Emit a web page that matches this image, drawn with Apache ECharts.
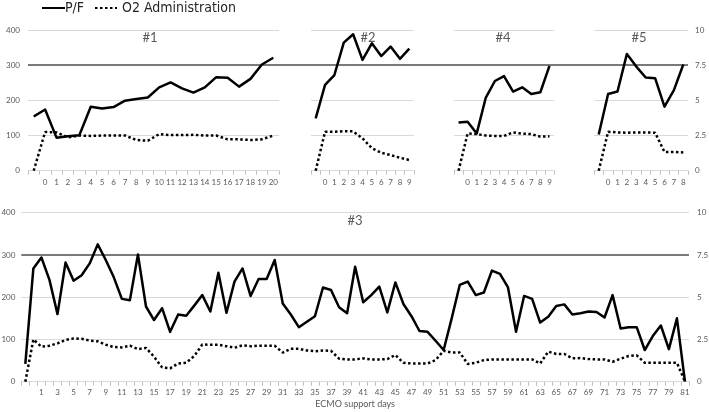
<!DOCTYPE html>
<html>
<head>
<meta charset="utf-8">
<script src="https://cdn.jsdelivr.net/npm/echarts@6/dist/echarts.min.js"></script>
<style>html,body{margin:0;padding:0;background:#fff}#c{width:709px;height:412px}</style>
</head>
<body>
<div id="c"></div>
<script>
// ---------- DATA ----------
const cat1 = ['', '0','1','2','3','4','5','6','7','8','9','10','11','12','13','14','15','16','17','18','19','20'];
const pf1  = [154,174,94,98,101,182,177,181,199,204,208,237,251,234,222,237,266,264,239,261,302,321];
const o2_1 = [0,2.75,2.72,2.37,2.5,2.47,2.5,2.5,2.5,2.18,2.13,2.6,2.53,2.53,2.55,2.5,2.5,2.23,2.23,2.18,2.23,2.5];

const cat2 = ['', '0','1','2','3','4','5','6','7','8','9'];
const pf2  = [149,244,272,364,388,315,362,326,353,318,347];
const o2_2 = [0,2.77,2.77,2.8,2.8,2.3,1.6,1.28,1.11,0.92,0.76];

const cat4 = ['', '0','1','2','3','4','5','6','7','8','9'];
const pf4  = [137,139,106,208,255,269,225,237,218,223,298];
const o2_4 = [0,2.65,2.6,2.5,2.47,2.47,2.72,2.63,2.6,2.42,2.44];

const cat5 = ['', '0','1','2','3','4','5','6','7','8'];
const pf5  = [103,218,225,332,296,265,263,182,229,302];
const o2_5 = [0,2.77,2.72,2.7,2.72,2.72,2.7,1.33,1.33,1.3];

const cat3 = ['', '0','1','2','3','4','5','6','7','8','9','10','11','12','13','14','15','16','17','18','19',
  '20','21','22','23','24','25','26','27','28','29','30','31','32','33','34','35','36','37','38','39',
  '40','41','42','43','44','45','46','47','48','49','50','51','52','53','54','55','56','57','58','59',
  '60','61','62','63','64','65','66','67','68','69','70','71','72','73','74','75','76','77','78','79','80','81'];
const pf3 = [42,268,294,241,160,282,239,252,280,325,288,247,196,193,301,178,146,174,118,159,156,
  180,205,166,258,163,237,268,203,243,243,288,185,159,129,142,155,223,217,176,162,
  272,188,205,225,164,235,184,155,120,118,97,75,150,229,237,205,211,263,255,223,118,
  203,196,140,154,179,183,159,162,166,165,152,205,126,129,129,75,108,133,77,150,0];
const o2_3 = [0,2.5,2.07,2.13,2.27,2.47,2.56,2.54,2.43,2.39,2.19,2.05,2.03,2.13,1.93,2.0,1.48,0.85,0.79,1.08,1.12,
  1.52,2.2,2.19,2.19,2.1,2.01,2.15,2.1,2.13,2.13,2.13,1.72,1.95,1.95,1.85,1.8,1.85,1.83,1.36,1.32,
  1.32,1.38,1.32,1.32,1.34,1.58,1.12,1.08,1.08,1.08,1.28,1.83,1.73,1.73,1.05,1.12,1.28,1.32,1.32,1.32,1.32,
  1.32,1.32,1.08,1.78,1.64,1.64,1.38,1.4,1.34,1.32,1.32,1.18,1.36,1.52,1.56,1.12,1.12,1.12,1.12,1.12,0];

const leftTicks = [0, 400, 100];   // min, max, interval
const rightTicks = [0, 10, 2.5];
const refLevel = 300;
const panelTitles = ['#1', '#2', '#4', '#5', '#3'];
const seriesNames = ['P/F', 'O2 Administration'];

// ---------- LAYOUT ----------
const FONT = 'Lato';
const LEGFONT = "'Liberation Sans Narrow', 'DejaVu Sans Condensed', Lato";
const TXT = '#595959';
const GRIDC = '#d9d9d9';
const grids = [
  {left: 28,   top: 30,    width: 251,   height: 140.7},
  {left: 311,  top: 30,    width: 103,   height: 140.7},
  {left: 454,  top: 30,    width: 100,   height: 140.7},
  {left: 594,  top: 30,    width: 94,    height: 140.7},
  {left: 21.3, top: 212.7, width: 667.7, height: 169},
  {left: 28,   top: 30,    width: 660,   height: 140.7}
].map(g => Object.assign({containLabel: false, outerBoundsMode: 'none'}, g));

const cats = [cat1, cat2, cat4, cat5, cat3];
const pfs = [pf1, pf2, pf4, pf5, pf3];
const o2s = [o2_1, o2_2, o2_4, o2_5, o2_3];

const xAxis = [], yAxis = [], series = [];
cats.forEach((c, g) => {
  const bottom = g === 4;
  xAxis.push({
    type: 'category', gridIndex: g, data: c, boundaryGap: true,
    axisLine: {lineStyle: {color: GRIDC, width: 1}},
    axisTick: {show: true, interval: 0, length: 4, lineStyle: {color: '#bfbfbf'}},
    axisLabel: {interval: bottom ? 1 : 0, fontSize: 8, color: TXT, fontFamily: FONT, margin: bottom ? 7 : 8},
    name: bottom ? 'ECMO support days' : '', nameLocation: 'middle', nameGap: 18,
    nameTextStyle: {fontSize: 9, color: TXT, fontFamily: FONT}
  });
  yAxis.push({
    type: 'value', gridIndex: g, min: leftTicks[0], max: leftTicks[1], interval: leftTicks[2], position: 'left',
    axisLine: {show: false}, axisTick: {show: false},
    axisLabel: {show: g === 0 || g === 4, fontSize: 8, color: TXT, fontFamily: FONT, margin: bottom ? 6 : 8},
    splitLine: {show: true, lineStyle: {color: GRIDC, width: 1}}
  });
  yAxis.push({
    type: 'value', gridIndex: g, min: rightTicks[0], max: rightTicks[1], interval: rightTicks[2], position: 'right',
    axisLine: {show: false}, axisTick: {show: false},
    axisLabel: {show: g === 3 || g === 4, fontSize: 8, color: TXT, fontFamily: FONT, margin: bottom ? 8 : 7},
    splitLine: {show: false}
  });
  const pfSeries = {
    name: seriesNames[0], type: 'line', xAxisIndex: g, yAxisIndex: 2 * g, data: pfs[g],
    symbol: 'none', smooth: false, z: 5,
    lineStyle: {color: '#000', width: 2.5, join: 'round'}, itemStyle: {color: '#000'}
  };
  if (bottom) {
    pfSeries.markLine = {
      silent: true, symbol: 'none', label: {show: false},
      lineStyle: {color: '#7a7a7a', width: 2, type: 'solid'},
      data: [{yAxis: refLevel}]
    };
  }
  series.push(pfSeries);
  series.push({
    name: seriesNames[1], type: 'line', xAxisIndex: g, yAxisIndex: 2 * g + 1, data: o2s[g],
    symbol: 'none', z: 4,
    lineStyle: {color: '#000', width: 2.5, type: [2.5, 2.5]}, itemStyle: {color: '#000'}
  });
});
// overlay for the top reference line spanning all top panels
xAxis.push({type: 'category', gridIndex: 5, data: [''], show: false});
yAxis.push({type: 'value', gridIndex: 5, min: leftTicks[0], max: leftTicks[1], show: false});
series.push({
  name: 'ref', type: 'line', xAxisIndex: 5, yAxisIndex: 10, data: [null], symbol: 'none',
  markLine: {silent: true, symbol: 'none', label: {show: false},
    lineStyle: {color: '#7a7a7a', width: 2, type: 'solid'}, data: [{yAxis: refLevel}]}
});

const titlePos = [[150, 38], [368, 38], [503, 38], [639, 38], [355, 221]];
const graphic = panelTitles.map((t, i) => ({
  type: 'text', x: titlePos[i][0], y: titlePos[i][1],
  style: {text: t, fill: TXT, font: '13px ' + FONT, align: 'center', verticalAlign: 'middle'}
}));

const hiddenSym = {opacity: 0, color: 'rgba(0,0,0,0)', borderWidth: 0};
const legendBase = {
  top: 1, padding: 0, itemHeight: 14, itemStyle: hiddenSym,
  textStyle: {fontSize: 14, color: '#262626', fontFamily: LEGFONT}
};

const chart = echarts.init(document.getElementById('c'), null, {renderer: 'canvas'});
chart.setOption({
  animation: false,
  backgroundColor: '#fff',
  textStyle: {fontFamily: FONT},
  legend: [
    Object.assign({}, legendBase, {data: [seriesNames[0]], left: 41, itemWidth: 23,
      textStyle: Object.assign({}, legendBase.textStyle, {padding: [0, 0, 0, -5]})}),
    Object.assign({}, legendBase, {data: [seriesNames[1]], left: 94, itemWidth: 22})
  ],
  grid: grids, xAxis: xAxis, yAxis: yAxis, series: series, graphic: graphic
});
</script>
</body>
</html>
